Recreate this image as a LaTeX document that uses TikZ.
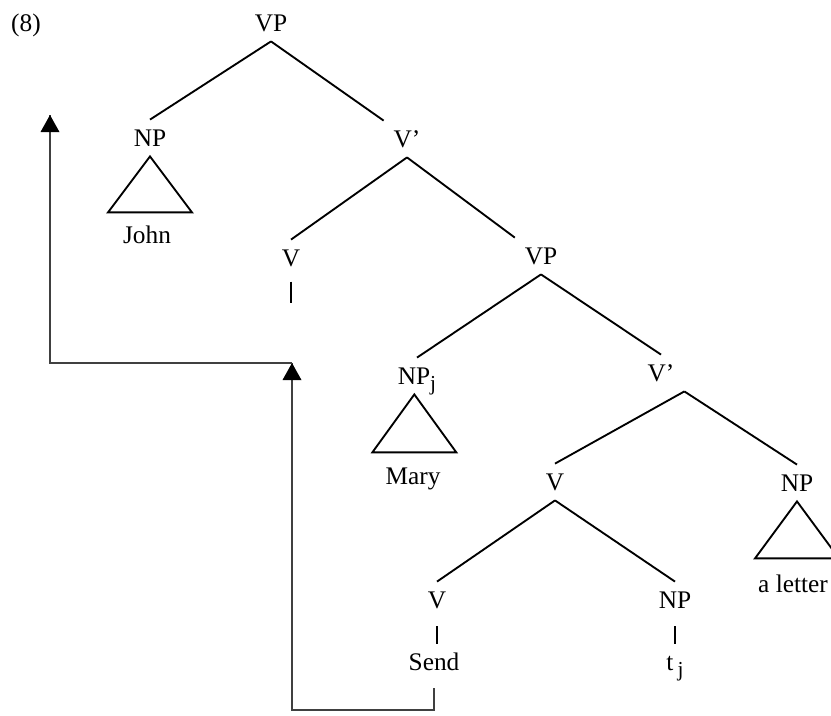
\documentclass[tikz,border=0pt]{standalone}
\usepackage{fontspec}
\setmainfont{Liberation Serif}

\newcommand{\trsub}[1]{\raisebox{-4.5pt}{\fontsize{16}{16}\selectfont #1}}

\tikzset{every picture/.style={line width=1.4pt}}
\tikzset{cat/.style={inner sep=0pt, outer sep=7.5pt, text height=12.6pt, text depth=0pt, font=\fontsize{19}{22}\selectfont},
	moveline/.style={line width=1.6pt, draw=black!75},
	movehead/.style={fill=black, line width=0.08pt, draw opacity=0}}

\begin{document}
\begin{tikzpicture}[x=0.75pt,y=0.75pt,yscale=-1,xscale=1]
			\useasboundingbox (0,0) rectangle (831,715);
			\draw (26,23) node [cat] (ex) {(8)};
			\draw (271,23) node [cat] (vp1) {VP};
			\draw (150,138) node [cat] (np1) {NP};
			\draw (147,235) node [cat] (john) {John};
			\draw (407,139) node [cat] (vbar1) {V'};
			\draw (291,258) node [cat] (v1) {V};
			\draw (541,256) node [cat] (vp2) {VP};
			\draw (417,376) node [cat] (npj) {NP\trsub{j}};
			\draw (413,476) node [cat] (mary) {Mary};
			\draw (661,373) node [cat] (vbar2) {V'};
			\draw (555,482) node [cat] (v2) {V};
			\draw (797,483) node [cat] (np3) {NP};
			\draw (793,584) node [cat] (letter) {a letter};
			\draw (437,600) node [cat] (v3) {V};
			\draw (434,662) node [cat] (send) {Send};
			\draw (675,600) node [cat] (np4) {NP};
			\draw (675,662) node [cat] (tj) {t\,\trsub{j}};
			\draw (vp1.south) -- (np1.north);
			\draw (vp1.south) -- (vbar1.north west);
			\draw (np1.south) -- ++(-42,56) -- ++(84,0) -- cycle;
			\draw (vbar1.south) -- (v1.north);
			\draw (vbar1.south) -- (vp2.north west);
			\draw [shorten <=4pt] (v1.south) -- ++(0,27);
			\draw (vp2.south) -- (npj.north);
			\draw (vp2.south) -- (vbar2.north);
			\draw ([xshift=-2pt]npj.south) -- ++(-42,58) -- ++(84,0) -- cycle;
			\draw (vbar2.south east) -- (v2.north);
			\draw (vbar2.south east) -- (np3.north);
			\draw (np3.south) -- ++(-42,57) -- ++(84,0) -- cycle;
			\draw (v2.south) -- (v3.north);
			\draw (v2.south) -- (np4.north);
			\draw [shorten <=6pt] (v3.south) -- (v3.south |- send.north);
			\draw [shorten <=6pt] (np4.south) -- (np4.south |- tj.north);
			\coordinate (tip1) at (292,363);
			\coordinate (tip2) at (50,115);
			\coordinate (turn) at (292,710);
			\draw [moveline] (send.south) ++(0,8) |- (turn) -- (tip1);
			\draw [shift={(tip1)}, rotate = 90] [movehead] (17,-9.5) -- (0,0) -- (17,9.5) -- cycle;
			\draw [moveline] (tip1) -| (tip2);
			\draw [shift={(tip2)}, rotate = 90] [movehead] (17,-9.5) -- (0,0) -- (17,9.5) -- cycle;
		\end{tikzpicture}
\end{document}
